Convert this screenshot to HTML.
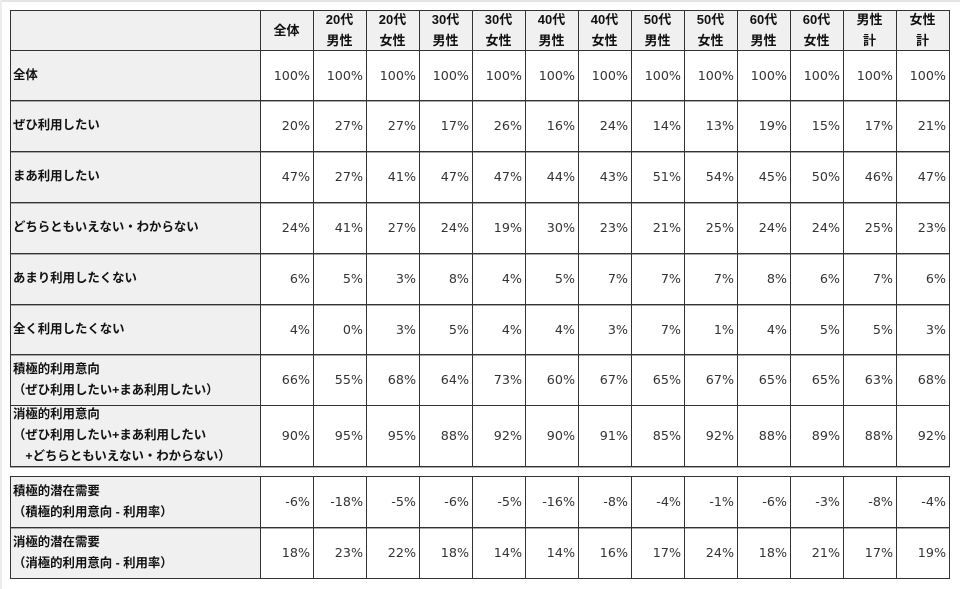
<!DOCTYPE html>
<html><head><meta charset="utf-8">
<style>
html,body{margin:0;padding:0;background:#fff;}
body{width:960px;height:589px;position:relative;overflow:hidden;}
.frameT{position:absolute;left:0;top:0;width:960px;height:2px;background:#e4e4e4;}
.frameL{position:absolute;left:0;top:0;width:2px;height:589px;background:#ececec;}
.row{position:absolute;left:10px;width:940px;display:flex;align-items:center;}
.l{width:250px;height:100%;box-sizing:border-box;padding-left:3px;background:#f0f0f0;display:flex;align-items:center;
 font-family:"Liberation Sans","Noto Sans CJK JP",sans-serif;font-weight:bold;font-size:12.4px;line-height:21px;color:#111;white-space:nowrap;}
.c{width:53px;height:100%;box-sizing:border-box;padding-right:3px;display:flex;align-items:center;justify-content:flex-end;
 font-family:"DejaVu Sans","Verdana",sans-serif;font-size:12.7px;color:#333;white-space:nowrap;}
.hdr .c{background:#f0f0f0;justify-content:center;padding-right:0;text-align:center;
 font-family:"Liberation Sans","Noto Sans CJK JP",sans-serif;font-weight:bold;font-size:13px;line-height:21px;color:#111;}
.h{position:absolute;left:10px;width:940px;height:1px;background:#333;}
.g{position:absolute;left:10px;width:940px;height:1px;background:#a8a8a8;}
.v{position:absolute;width:1px;background:#333;}
</style></head><body>
<div class="frameT"></div><div class="frameL"></div>

<div class="row hdr" style="top:10px;height:40px;">
<div class="l"></div>
<div class="c">全体</div>
<div class="c">20代<br>男性</div>
<div class="c">20代<br>女性</div>
<div class="c">30代<br>男性</div>
<div class="c">30代<br>女性</div>
<div class="c">40代<br>男性</div>
<div class="c">40代<br>女性</div>
<div class="c">50代<br>男性</div>
<div class="c">50代<br>女性</div>
<div class="c">60代<br>男性</div>
<div class="c">60代<br>女性</div>
<div class="c">男性<br>計</div>
<div class="c">女性<br>計</div>
</div>

<div class="row" style="top:50px;height:50px;">
<div class="l">全体</div>
<div class="c">100%</div><div class="c">100%</div><div class="c">100%</div><div class="c">100%</div><div class="c">100%</div><div class="c">100%</div><div class="c">100%</div><div class="c">100%</div><div class="c">100%</div><div class="c">100%</div><div class="c">100%</div><div class="c">100%</div><div class="c">100%</div>
</div>

<div class="row" style="top:100px;height:51px;">
<div class="l">ぜひ利用したい</div>
<div class="c">20%</div><div class="c">27%</div><div class="c">27%</div><div class="c">17%</div><div class="c">26%</div><div class="c">16%</div><div class="c">24%</div><div class="c">14%</div><div class="c">13%</div><div class="c">19%</div><div class="c">15%</div><div class="c">17%</div><div class="c">21%</div>
</div>

<div class="row" style="top:151px;height:51px;">
<div class="l">まあ利用したい</div>
<div class="c">47%</div><div class="c">27%</div><div class="c">41%</div><div class="c">47%</div><div class="c">47%</div><div class="c">44%</div><div class="c">43%</div><div class="c">51%</div><div class="c">54%</div><div class="c">45%</div><div class="c">50%</div><div class="c">46%</div><div class="c">47%</div>
</div>

<div class="row" style="top:202px;height:51px;">
<div class="l">どちらともいえない・わからない</div>
<div class="c">24%</div><div class="c">41%</div><div class="c">27%</div><div class="c">24%</div><div class="c">19%</div><div class="c">30%</div><div class="c">23%</div><div class="c">21%</div><div class="c">25%</div><div class="c">24%</div><div class="c">24%</div><div class="c">25%</div><div class="c">23%</div>
</div>

<div class="row" style="top:253px;height:51px;">
<div class="l">あまり利用したくない</div>
<div class="c">6%</div><div class="c">5%</div><div class="c">3%</div><div class="c">8%</div><div class="c">4%</div><div class="c">5%</div><div class="c">7%</div><div class="c">7%</div><div class="c">7%</div><div class="c">8%</div><div class="c">6%</div><div class="c">7%</div><div class="c">6%</div>
</div>

<div class="row" style="top:304px;height:50px;">
<div class="l">全く利用したくない</div>
<div class="c">4%</div><div class="c">0%</div><div class="c">3%</div><div class="c">5%</div><div class="c">4%</div><div class="c">4%</div><div class="c">3%</div><div class="c">7%</div><div class="c">1%</div><div class="c">4%</div><div class="c">5%</div><div class="c">5%</div><div class="c">3%</div>
</div>

<div class="row" style="top:354px;height:51px;">
<div class="l">積極的利用意向<br>（ぜひ利用したい+まあ利用したい）</div>
<div class="c">66%</div><div class="c">55%</div><div class="c">68%</div><div class="c">64%</div><div class="c">73%</div><div class="c">60%</div><div class="c">67%</div><div class="c">65%</div><div class="c">67%</div><div class="c">65%</div><div class="c">65%</div><div class="c">63%</div><div class="c">68%</div>
</div>

<div class="row" style="top:405px;height:61px;">
<div class="l">消極的利用意向<br>（ぜひ利用したい+まあ利用したい<br>　+どちらともいえない・わからない）</div>
<div class="c">90%</div><div class="c">95%</div><div class="c">95%</div><div class="c">88%</div><div class="c">92%</div><div class="c">90%</div><div class="c">91%</div><div class="c">85%</div><div class="c">92%</div><div class="c">88%</div><div class="c">89%</div><div class="c">88%</div><div class="c">92%</div>
</div>

<div class="row" style="top:476px;height:51px;">
<div class="l">積極的潜在需要<br>（積極的利用意向 - 利用率）</div>
<div class="c">-6%</div><div class="c">-18%</div><div class="c">-5%</div><div class="c">-6%</div><div class="c">-5%</div><div class="c">-16%</div><div class="c">-8%</div><div class="c">-4%</div><div class="c">-1%</div><div class="c">-6%</div><div class="c">-3%</div><div class="c">-8%</div><div class="c">-4%</div>
</div>

<div class="row" style="top:527px;height:51px;">
<div class="l">消極的潜在需要<br>（消極的利用意向 - 利用率）</div>
<div class="c">18%</div><div class="c">23%</div><div class="c">22%</div><div class="c">18%</div><div class="c">14%</div><div class="c">14%</div><div class="c">16%</div><div class="c">17%</div><div class="c">24%</div><div class="c">18%</div><div class="c">21%</div><div class="c">17%</div><div class="c">19%</div>
</div>

<!-- horizontal lines -->
<div class="h" style="top:10px"></div>
<div class="h" style="top:50px"></div>
<div class="h" style="top:100px"></div><div class="g" style="top:101px"></div>
<div class="h" style="top:151px"></div><div class="g" style="top:152px"></div>
<div class="h" style="top:202px"></div><div class="g" style="top:203px"></div>
<div class="h" style="top:253px"></div><div class="g" style="top:254px"></div>
<div class="h" style="top:304px"></div><div class="g" style="top:305px"></div>
<div class="h" style="top:354px"></div><div class="g" style="top:355px"></div>
<div class="h" style="top:405px"></div>
<div class="h" style="top:466px"></div><div class="g" style="top:467px"></div>
<div class="h" style="top:476px"></div>
<div class="h" style="top:527px"></div><div class="g" style="top:528px"></div>
<div class="h" style="top:578px"></div>

<!-- vertical lines -->
<div class="v" style="left:10px;top:10px;height:457px"></div>
<div class="v" style="left:260px;top:10px;height:457px"></div>
<div class="v" style="left:313px;top:10px;height:457px"></div>
<div class="v" style="left:366px;top:10px;height:457px"></div>
<div class="v" style="left:419px;top:10px;height:457px"></div>
<div class="v" style="left:472px;top:10px;height:457px"></div>
<div class="v" style="left:525px;top:10px;height:457px"></div>
<div class="v" style="left:578px;top:10px;height:457px"></div>
<div class="v" style="left:631px;top:10px;height:457px"></div>
<div class="v" style="left:684px;top:10px;height:457px"></div>
<div class="v" style="left:737px;top:10px;height:457px"></div>
<div class="v" style="left:790px;top:10px;height:457px"></div>
<div class="v" style="left:843px;top:10px;height:457px"></div>
<div class="v" style="left:896px;top:10px;height:457px"></div>
<div class="v" style="left:949px;top:10px;height:457px"></div>

<div class="v" style="left:10px;top:476px;height:103px"></div>
<div class="v" style="left:260px;top:476px;height:103px"></div>
<div class="v" style="left:313px;top:476px;height:103px"></div>
<div class="v" style="left:366px;top:476px;height:103px"></div>
<div class="v" style="left:419px;top:476px;height:103px"></div>
<div class="v" style="left:472px;top:476px;height:103px"></div>
<div class="v" style="left:525px;top:476px;height:103px"></div>
<div class="v" style="left:578px;top:476px;height:103px"></div>
<div class="v" style="left:631px;top:476px;height:103px"></div>
<div class="v" style="left:684px;top:476px;height:103px"></div>
<div class="v" style="left:737px;top:476px;height:103px"></div>
<div class="v" style="left:790px;top:476px;height:103px"></div>
<div class="v" style="left:843px;top:476px;height:103px"></div>
<div class="v" style="left:896px;top:476px;height:103px"></div>
<div class="v" style="left:949px;top:476px;height:103px"></div>
</body></html>
